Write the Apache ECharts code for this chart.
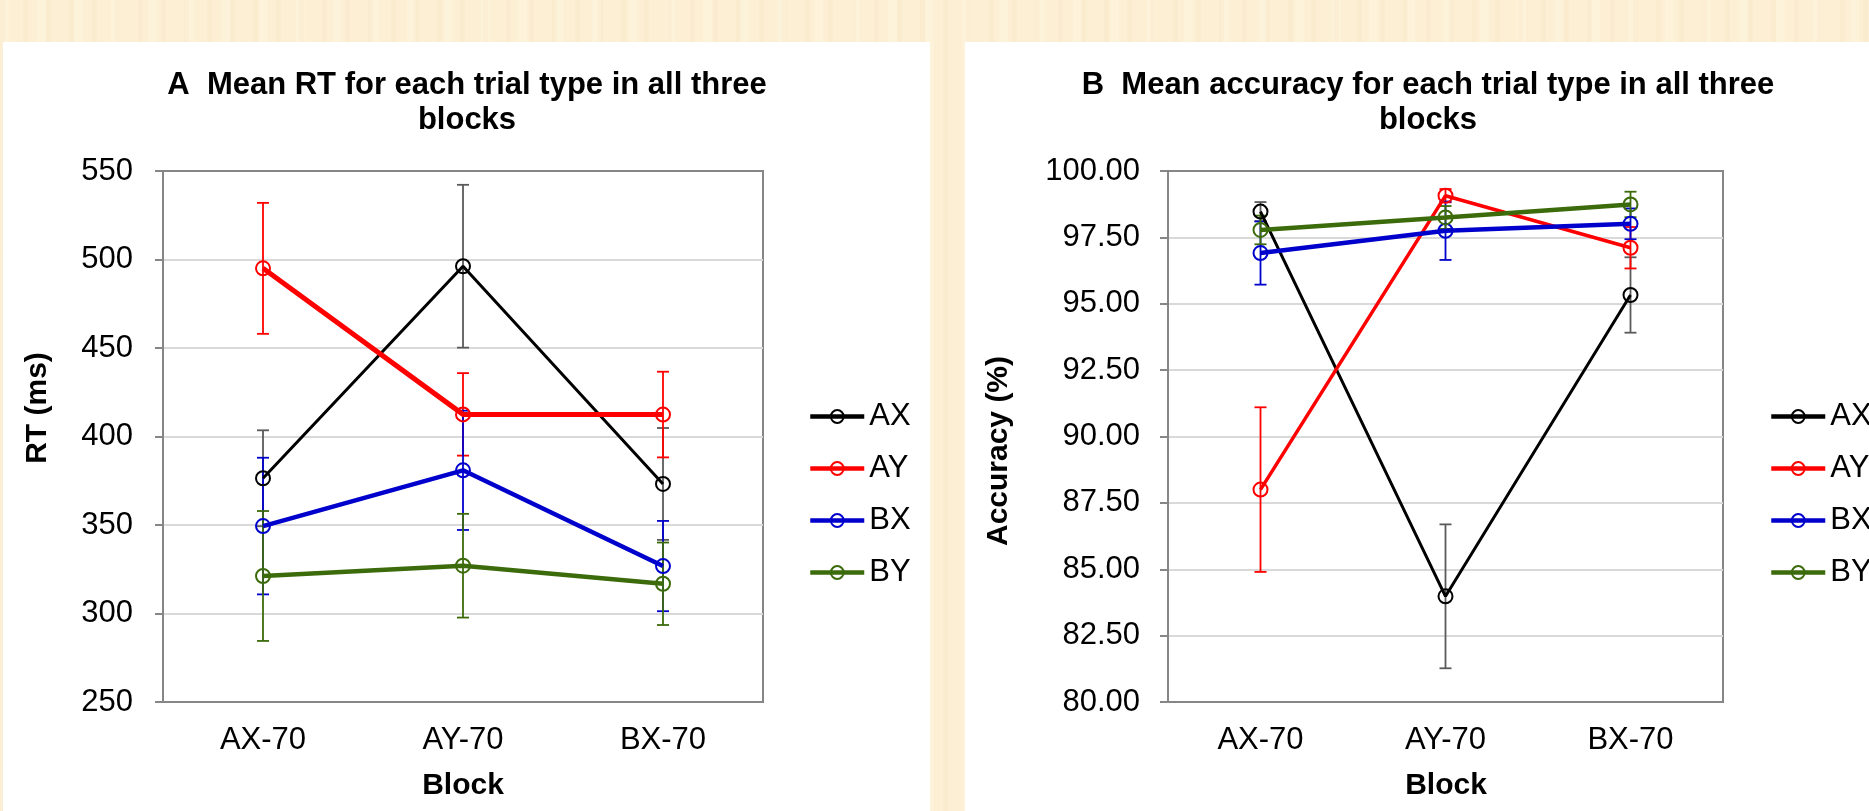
<!DOCTYPE html>
<html>
<head>
<meta charset="utf-8">
<script src="https://cdn.jsdelivr.net/npm/echarts@6/dist/echarts.min.js"></script>
<style>
html, body { margin:0; padding:0; width:1869px; height:811px; overflow:hidden; }
body {
  background-color:#fcefd4;
  background-image:
    repeating-linear-gradient(90deg, rgba(236,206,160,0.10) 0px, rgba(236,206,160,0.10) 5px, rgba(255,255,255,0) 5px, rgba(255,255,255,0) 23px),
    repeating-linear-gradient(90deg, rgba(255,250,235,0.25) 0px, rgba(255,250,235,0.25) 9px, rgba(255,255,255,0) 9px, rgba(255,255,255,0) 37px);
}
.panel { position:absolute; background:#ffffff; }
#chart { position:absolute; left:0; top:0; width:1869px; height:811px; }
</style>
</head>
<body>
<div class="panel" style="left:3px; top:42px; width:927px; height:769px;"></div>
<div class="panel" style="left:965px; top:42px; width:904px; height:769px;"></div>
<div id="chart"></div>
<script>
// ---------- data ----------
const categories = ['AX-70', 'AY-70', 'BX-70'];
const seriesNames = ['AX', 'AY', 'BX', 'BY'];

// Panel A: mean RT (ms) and error
const rtAX = [376.4, 496.2, 373.2];
const rtAXErr = [27.1, 46.0, 31.6];
const rtAY = [495.0, 412.5, 412.4];
const rtAYErr = [37.0, 23.3, 24.2];
const rtBX = [349.4, 380.9, 326.8];
const rtBXErr = [38.6, 33.7, 25.5];
const rtBY = [321.2, 327.0, 316.8];
const rtBYErr = [36.7, 29.3, 23.3];

// Panel B: mean accuracy (%) and error
const accAX = [98.47, 83.98, 95.33];
const accAXErr = [0.36, 2.71, 1.42];
const accAY = [88.00, 99.07, 97.11];
const accAYErr = [3.10, 0.25, 0.78];
const accBX = [96.91, 97.75, 98.01];
const accBXErr = [1.19, 1.10, 0.58];
const accBY = [97.78, 98.25, 98.74];
const accBYErr = [0.54, 0.43, 0.48];

// axis ranges / ticks
const rtMin = 250, rtMax = 550, rtStep = 50;
const accMin = 80, accMax = 100, accStep = 2.5;

// ---------- styling ----------
const FONT = '"Liberation Sans", Arial, Helvetica, sans-serif';
const colors = { AX: '#000000', AY: '#ff0000', BX: '#0000cc', BY: '#3c6b0c' };
const errColors = { AX: '#5a5a5a', AY: '#ff0000', BX: '#0000cc', BY: '#3c6b0c' };
const widthsA = { AX: 3, AY: 5, BX: 4.5, BY: 4.5 };
const widthsB = { AX: 3, AY: 3.5, BX: 4.5, BY: 4.5 };
const axisGrey = '#868686';

function errRender(color) {
  return function (params, api) {
    const i = api.value(0), v = api.value(1), e = api.value(2);
    const top = api.coord([i, v + e]);
    const bot = api.coord([i, v - e]);
    const x = top[0];
    const cap = 6;
    const style = { stroke: color, lineWidth: 1.8 };
    return {
      type: 'group',
      children: [
        { type: 'line', shape: { x1: x, y1: top[1], x2: x, y2: bot[1] }, style: style },
        { type: 'line', shape: { x1: x - cap, y1: top[1], x2: x + cap, y2: top[1] }, style: style },
        { type: 'line', shape: { x1: x - cap, y1: bot[1], x2: x + cap, y2: bot[1] }, style: style }
      ]
    };
  };
}

function makeSeries(panel, name, vals, errs, width) {
  const out = [];
  out.push({
    name: name,
    type: 'line',
    xAxisIndex: panel, yAxisIndex: panel,
    data: vals,
    symbol: 'circle',
    symbolSize: 14,
    lineStyle: { color: colors[name], width: width },
    itemStyle: { color: 'rgba(255,255,255,0)', borderColor: colors[name], borderWidth: 2 },
    emphasis: { disabled: true },
    z: 3
  });
  out.push({
    name: name + ' error',
    type: 'custom',
    xAxisIndex: panel, yAxisIndex: panel,
    data: vals.map((v, i) => [i, v, errs[i]]),
    encode: { x: 0, y: 1 },
    renderItem: errRender(errColors[name]),
    silent: true,
    z: 3
  });
  return out;
}

const seriesA = [
  ...makeSeries(0, 'AX', rtAX, rtAXErr, widthsA.AX),
  ...makeSeries(0, 'AY', rtAY, rtAYErr, widthsA.AY),
  ...makeSeries(0, 'BX', rtBX, rtBXErr, widthsA.BX),
  ...makeSeries(0, 'BY', rtBY, rtBYErr, widthsA.BY)
];
const seriesB = [
  ...makeSeries(1, 'AX', accAX, accAXErr, widthsB.AX),
  ...makeSeries(1, 'AY', accAY, accAYErr, widthsB.AY),
  ...makeSeries(1, 'BX', accBX, accBXErr, widthsB.BX),
  ...makeSeries(1, 'BY', accBY, accBYErr, widthsB.BY)
];

function xAxisCfg(idx) {
  return {
    gridIndex: idx, type: 'category', data: categories, boundaryGap: true,
    axisLine: { show: true, lineStyle: { color: axisGrey, width: 2 } },
    axisTick: { show: false },
    axisLabel: { margin: 23, fontSize: 31, color: '#000', fontFamily: FONT },
    splitLine: { show: false }
  };
}
function yAxisCfg(idx, min, max, step, margin, fmt) {
  return {
    gridIndex: idx, type: 'value', min: min, max: max, interval: step,
    axisLine: { show: true, lineStyle: { color: axisGrey, width: 2 } },
    axisTick: { show: true, length: 8, lineStyle: { color: axisGrey, width: 2 } },
    axisLabel: { margin: margin, fontSize: 31, color: '#000', fontFamily: FONT, formatter: fmt },
    splitLine: { show: true, showMinLine: false, showMaxLine: false, lineStyle: { color: '#d9d9d9', width: 2 } }
  };
}
function legendCfg(left) {
  return {
    left: left, top: 396, orient: 'vertical',
    itemWidth: 54, itemHeight: 16, itemGap: 21,
    data: seriesNames,
    selectedMode: false,
    textStyle: { fontSize: 31, fontFamily: FONT, color: '#000', lineHeight: 30 },
    lineStyle: { width: 4.5 },
    itemStyle: { borderWidth: 2 }
  };
}

const chart = echarts.init(document.getElementById('chart'), null, { renderer: 'canvas' });
chart.setOption({
  backgroundColor: 'transparent',
  animation: false,
  grid: [
    { left: 163, top: 171, width: 600, height: 531, show: true, borderColor: axisGrey, borderWidth: 2, backgroundColor: 'transparent' },
    { left: 1168, top: 171, width: 555, height: 531, show: true, borderColor: axisGrey, borderWidth: 2, backgroundColor: 'transparent' }
  ],
  xAxis: [xAxisCfg(0), xAxisCfg(1)],
  yAxis: [
    yAxisCfg(0, rtMin, rtMax, rtStep, 30, v => String(v)),
    yAxisCfg(1, accMin, accMax, accStep, 28, v => v.toFixed(2))
  ],
  legend: [legendCfg(803), legendCfg(1764)],
  graphic: [
    { type: 'text', x: 467, y: 68, silent: true,
      style: { text: 'A  Mean RT for each trial type in all three\nblocks', font: 'bold 31px ' + FONT, fill: '#000', align: 'center', verticalAlign: 'top', lineHeight: 35 } },
    { type: 'text', x: 1428, y: 68, silent: true,
      style: { text: 'B  Mean accuracy for each trial type in all three\nblocks', font: 'bold 31px ' + FONT, fill: '#000', align: 'center', verticalAlign: 'top', lineHeight: 35 } },
    { type: 'text', x: 38, y: 408, rotation: Math.PI / 2, silent: true,
      style: { text: 'RT (ms)', font: 'bold 30px ' + FONT, fill: '#000', align: 'center', verticalAlign: 'middle' } },
    { type: 'text', x: 999, y: 451, rotation: Math.PI / 2, silent: true,
      style: { text: 'Accuracy (%)', font: 'bold 30px ' + FONT, fill: '#000', align: 'center', verticalAlign: 'middle' } },
    { type: 'text', x: 463, y: 786, silent: true,
      style: { text: 'Block', font: 'bold 30px ' + FONT, fill: '#000', align: 'center', verticalAlign: 'middle' } },
    { type: 'text', x: 1446, y: 786, silent: true,
      style: { text: 'Block', font: 'bold 30px ' + FONT, fill: '#000', align: 'center', verticalAlign: 'middle' } }
  ],
  series: [...seriesA, ...seriesB]
});
</script>
</body>
</html>
